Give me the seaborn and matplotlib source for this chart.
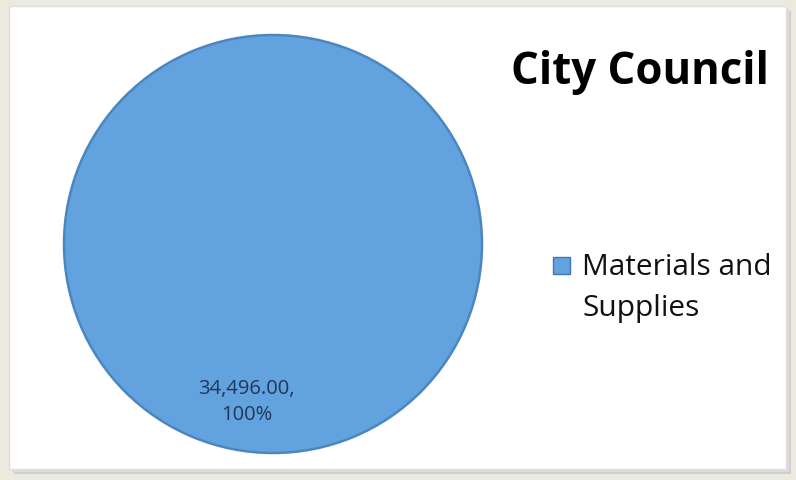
import matplotlib
matplotlib.use("Agg")
import matplotlib.pyplot as plt
import matplotlib.patches as mpatches
import seaborn as sns

# Data
categories = ["Materials and\nSupplies"]
values = [34496.00]
title = "City Council"

sns.set_theme(style="white")
plt.rcParams['font.family'] = ['Open Sans', 'DejaVu Sans']

W, H = 796, 481
fig = plt.figure(figsize=(W / 100, H / 100), dpi=100)
fig.patch.set_facecolor("#ECE9DF")


def fx(px):
    return px / W


def fy(py):
    return 1 - py / H


# panel shadow + white panel
for off, col in [(5, "#CFCFCF"), (3, "#DCDCDC"), (1, "#E8E8E8")]:
    fig.add_artist(mpatches.Rectangle((fx(9 + off), fy(470 + off)), fx(777), (470 - 7) / H,
                                      transform=fig.transFigure, facecolor=col, edgecolor="none", zorder=0))
fig.add_artist(mpatches.Rectangle((fx(9), fy(470)), fx(777), (470 - 7) / H,
                                  transform=fig.transFigure, facecolor="white", edgecolor="#DDDDDD",
                                  linewidth=1, zorder=0))

cx, cy, r = 273, 245, 209
ax = fig.add_axes([fx(cx - r), fy(cy + r), 2 * r / W, 2 * r / H])
ax.set_facecolor("none")


def fmt(p):
    return f"{values[0]:,.2f},\n{p:.0f}%"


wedges, texts, autotexts = ax.pie(
    values,
    colors=["#62A2DE"],
    startangle=80.5,
    autopct=fmt,
    pctdistance=0.76,
    wedgeprops=dict(edgecolor="#4C86BF", linewidth=1.8),
    textprops=dict(color="#22365A", fontsize=14.5, linespacing=1.4),
)
for t in autotexts:
    t.set_ha("center")
ax.set_aspect("equal")
ax.set_xlim(-1, 1)
ax.set_ylim(-1, 1)
ax.axis("off")

fig.text(fx(640), fy(73), title, ha="center", va="center", fontsize=31.5, fontweight="bold", color="black")

# legend: handle aligned with first line of the label
fig.add_artist(mpatches.Rectangle((fx(553), fy(275)), 17 / W, 17 / H, transform=fig.transFigure,
                                  facecolor=wedges[0].get_facecolor(), edgecolor="#3F77B0", linewidth=1))
fig.text(fx(582), fy(253), categories[0], ha="left", va="top", fontsize=21.5,
         color="#111111", linespacing=1.55)

fig.savefig("out.png", dpi=100, facecolor=fig.get_facecolor())
